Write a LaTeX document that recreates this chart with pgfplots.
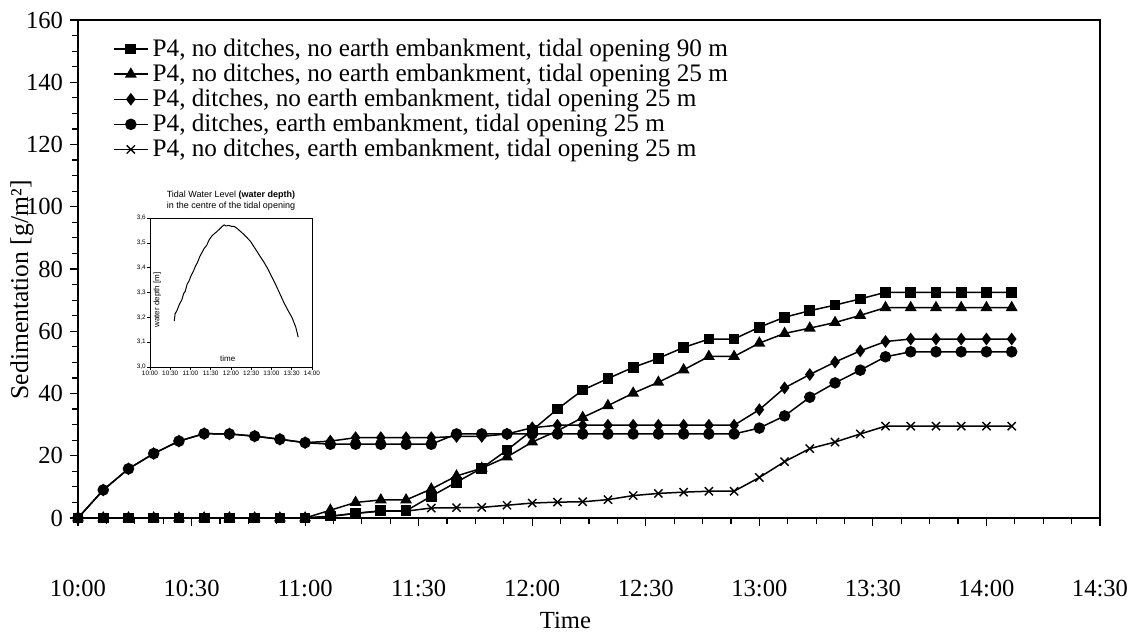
\documentclass[border=0pt]{standalone}
\usepackage{fontspec}
\setmainfont{Liberation Serif}
\newfontfamily\insetfont{Liberation Sans}
\usepackage{pgfplots}
\pgfplotsset{compat=1.18}
\usepackage{pgfplotstable}

\pgfplotstableread{
t sq tri dia cir crs
0 0 0 0 0 0
6.67 0 0 9.0 9.0 0
13.33 0 0 15.8 15.8 0
20 0 0 20.7 20.7 0
26.67 0 0 24.7 24.7 0
33.33 0 0 27.1 27.1 0
40 0 0 27.0 27.0 0
46.67 0 0 26.3 26.3 0
53.33 0 0 25.3 25.3 0
60 0 0 24.2 24.2 0
66.67 0.6 2.5 24.7 23.7 0.5
73.33 1.5 5.0 25.8 23.7 1.5
80 2.3 5.8 25.8 23.7 2.2
86.67 2.3 5.8 25.8 23.7 2.2
93.33 7.0 9.3 25.8 23.7 3.2
100 11.5 13.5 26.2 27.0 3.3
106.67 16.0 16.0 26.2 27.0 3.4
113.33 21.8 19.6 27.0 27.0 4.1
120 28.2 24.4 29.0 27.0 4.8
126.67 35.0 28.0 29.8 27.0 5.1
133.33 41.1 32.3 29.8 27.0 5.2
140 44.8 36.1 29.8 27.0 5.9
146.67 48.4 40.1 29.8 27.0 7.2
153.33 51.3 43.6 29.8 27.0 7.9
160 54.8 47.6 29.8 27.0 8.3
166.67 57.5 51.9 29.8 27.0 8.6
173.33 57.5 51.9 29.8 27.0 8.6
180 61.3 56.2 34.8 28.9 13.0
186.67 64.5 59.3 41.8 32.8 18.1
193.33 66.6 61.0 46.1 38.8 22.3
200 68.4 62.8 50.1 43.4 24.4
206.67 70.4 65.1 53.7 47.5 27.0
213.33 72.5 67.6 56.7 51.8 29.5
220 72.5 67.6 57.5 53.4 29.5
226.67 72.5 67.6 57.5 53.4 29.5
233.33 72.5 67.6 57.5 53.4 29.5
240 72.5 67.6 57.5 53.4 29.5
246.67 72.5 67.6 57.5 53.4 29.5
}\sed

\pgfplotstableread{
t d
0.60 3.185
0.62 3.215
0.66 3.225
0.72 3.250
0.79 3.272
0.83 3.295
0.87 3.305
0.92 3.335
0.96 3.345
1.02 3.370
1.07 3.385
1.12 3.405
1.17 3.420
1.23 3.445
1.28 3.460
1.34 3.478
1.40 3.490
1.46 3.512
1.53 3.528
1.59 3.537
1.65 3.545
1.72 3.556
1.78 3.566
1.83 3.572
1.88 3.568
1.95 3.570
2.02 3.566
2.08 3.566
2.15 3.558
2.22 3.548
2.31 3.535
2.40 3.520
2.48 3.506
2.56 3.486
2.64 3.466
2.72 3.445
2.81 3.423
2.90 3.398
2.98 3.372
3.06 3.346
3.14 3.319
3.22 3.290
3.31 3.258
3.40 3.230
3.51 3.198
3.60 3.160
3.66 3.120
}\tide

\begin{document}
\begin{tikzpicture}[x=1pt,y=1pt]
\useasboundingbox (-39,-59) rectangle (529.5,259);
\begin{axis}[
  at={(0,0)}, anchor=south west,
  scale only axis, width=511pt, height=249pt,
  xmin=0, xmax=270, ymin=0, ymax=160,
  clip=false,
  xtick={0,30,...,270},
  xticklabels={10:00,10:30,11:00,11:30,12:00,12:30,13:00,13:30,14:00,14:30},
  ytick={0,20,...,160},
  minor x tick num=3, minor y tick num=3,
  tick align=outside, xtick pos=bottom, ytick pos=left,
  major tick length=4pt, minor tick length=3pt,
  axis line style={line width=0.9pt},
  tick style={line width=0.6pt, black},
  /pgf/number format/assume math mode=true,
  ticklabel style={font=\fontsize{12.3}{14}\selectfont},
  every x tick label/.append style={yshift=-23.5pt},
  xlabel={Time},
  xlabel style={at={(axis description cs:0.477,0)}, anchor=center, yshift=-51pt, font=\fontsize{12.3}{14}\selectfont},
  ylabel={Sedimentation [g/m²]},
  ylabel style={at={(axis description cs:-0.0548,0.458)}, anchor=center, font=\fontsize{12.8}{14}\selectfont},
  legend reversed,
  legend cell align=left,
  legend style={at={(axis description cs:0.028,0.971)}, anchor=north west, draw=none, fill=none,
    font=\fontsize{12.6}{13}\selectfont, row sep=2.3pt, nodes={inner sep=0pt},
    /tikz/every odd column/.append style={column sep=2pt}},
]
\addplot[black, line width=0.75pt, mark=x, mark size=2.9pt, mark options={solid, line width=0.7pt}] table[x=t, y=crs] {\sed};
\addlegendentry{P4, no ditches, earth embankment, tidal opening 25 m}
\addplot[black, line width=0.75pt, mark=*, mark size=2.5pt, mark options={solid, fill=black}] table[x=t, y=cir] {\sed};
\addlegendentry{P4, ditches, earth embankment, tidal opening 25 m}
\addplot[black, line width=0.75pt, mark=diamond*, mark size=2.6pt, mark options={solid, fill=black}] table[x=t, y=dia] {\sed};
\addlegendentry{P4, ditches, no earth embankment, tidal opening 25 m}
\addplot[black, line width=0.75pt, mark=triangle*, mark size=2.7pt, mark options={solid, fill=black}] table[x=t, y=tri] {\sed};
\addlegendentry{P4, no ditches, no earth embankment, tidal opening 25 m}
\addplot[black, line width=0.75pt, mark=square*, mark size=2.3pt, mark options={solid, fill=black}] table[x=t, y=sq] {\sed};
\addlegendentry{P4, no ditches, no earth embankment, tidal opening 90 m}
\end{axis}

\begin{axis}[
  at={(36pt,75.5pt)}, anchor=south west,
  scale only axis, width=81pt, height=74.5pt,
  xmin=0, xmax=4, ymin=3.0, ymax=3.6,
  xtick={0,0.5,...,4},
  xticklabels={10:00,10:30,11:00,11:30,12:00,12:30,13:00,13:30,14:00},
  ytick={3.0,3.1,3.2,3.3,3.4,3.5,3.6},
  yticklabel style={/pgf/number format/.cd, use comma, fixed, fixed zerofill, precision=1},
  /pgf/number format/assume math mode=true,
  ticklabel style={font=\insetfont\fontsize{3.2}{3.6}\selectfont, inner sep=0.6pt},
  tick align=outside, xtick pos=bottom, ytick pos=left,
  major tick length=1.3pt,
  axis line style={line width=0.45pt},
  tick style={line width=0.3pt, black},
  title={Tidal Water Level \textbf{(water depth)}\\in the centre of the tidal opening},
  title style={font=\insetfont\fontsize{4.5}{5.4}\selectfont, align=center, at={(axis description cs:0.5,1)}, anchor=south, yshift=-5.5pt},
  xlabel={time},
  xlabel style={at={(axis description cs:0.48,0.054)}, anchor=center, font=\insetfont\fontsize{4}{5}\selectfont},
  ylabel={water depth [m]},
  ylabel style={at={(axis description cs:0.045,0.45)}, anchor=center, font=\insetfont\fontsize{4}{5}\selectfont},
]
\addplot[black, line width=0.5pt] table[x=t, y=d] {\tide};
\end{axis}
\end{tikzpicture}
\end{document}
